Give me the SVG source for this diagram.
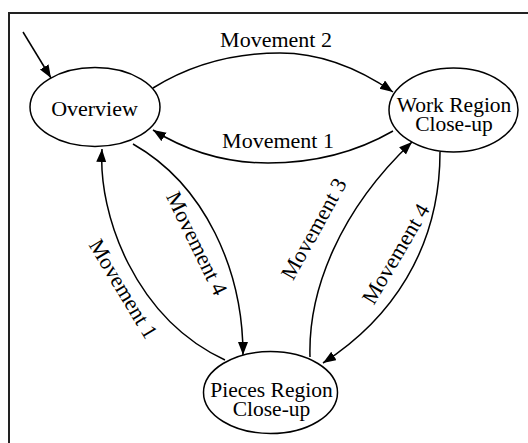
<svg xmlns="http://www.w3.org/2000/svg" width="528" height="443" viewBox="0 0 528 443">
<style>
.node ellipse{fill:#fff;stroke:#000;stroke-width:1.5}
.node text,.lbl{font-family:"Liberation Serif","Times New Roman",serif;font-size:22px;fill:#000;text-anchor:middle}
.node text.two{font-size:21.5px}
.edge{fill:none;stroke:#000;stroke-width:1.5}
</style>
<defs>
<marker id="ah" markerUnits="userSpaceOnUse" markerWidth="16" markerHeight="12" refX="13" refY="5" orient="auto" viewBox="0 0 16 12">
<path d="M0,0 L13,5 L0,10 Z" fill="#000"/>
</marker>
</defs>
<rect x="9" y="13" width="540" height="450" fill="#fff" stroke="#222" stroke-width="2"/>
<g id="connectors">
<path class="edge" d="M23,32 L51,78" marker-end="url(#ah)"/>
<path class="edge" d="M153,88 C195,62 240,53 280,53 C322,53 358,68 393,92" marker-end="url(#ah)"/>
<path class="edge" d="M393,131 C360,150 318,163 268,163 C222,163 185,150 153,130" marker-end="url(#ah)"/>
<path class="edge" d="M133,144 C205,185 243,270 243,355" marker-end="url(#ah)"/>
<path class="edge" d="M225,360 C135,318 98,215 102,149" marker-end="url(#ah)"/>
<path class="edge" d="M310,357 C308,290 340,210 412,142" marker-end="url(#ah)"/>
<path class="edge" d="M440,152 C440,250 390,320 323,363" marker-end="url(#ah)"/>
<text class="lbl" x="276" y="47">Movement 2</text>
<text class="lbl" x="278" y="148">Movement 1</text>
<text class="lbl" transform="translate(196.5,243.5) rotate(64)" x="0" y="7">Movement 4</text>
<text class="lbl" transform="translate(123,289) rotate(59)" x="0" y="7">Movement 1</text>
<text class="lbl" transform="translate(314,229) rotate(-61)" x="0" y="7">Movement 3</text>
<text class="lbl" transform="translate(396,254) rotate(-59.5)" x="0" y="7">Movement 4</text>
</g>
<g id="overview" class="node">
<ellipse cx="95" cy="107" rx="65" ry="39.5"/>
<text x="94.5" y="116">Overview</text>
</g>
<g id="work" class="node">
<ellipse cx="453.5" cy="110" rx="64.5" ry="42"/>
<text class="two" x="454" y="111.5">Work Region</text>
<text class="two" x="454" y="130.5">Close-up</text>
</g>
<g id="pieces" class="node">
<ellipse cx="270.5" cy="392.5" rx="67" ry="41"/>
<text class="two" x="271.5" y="396.5">Pieces Region</text>
<text class="two" x="271.5" y="415.5">Close-up</text>
</g>
</svg>
